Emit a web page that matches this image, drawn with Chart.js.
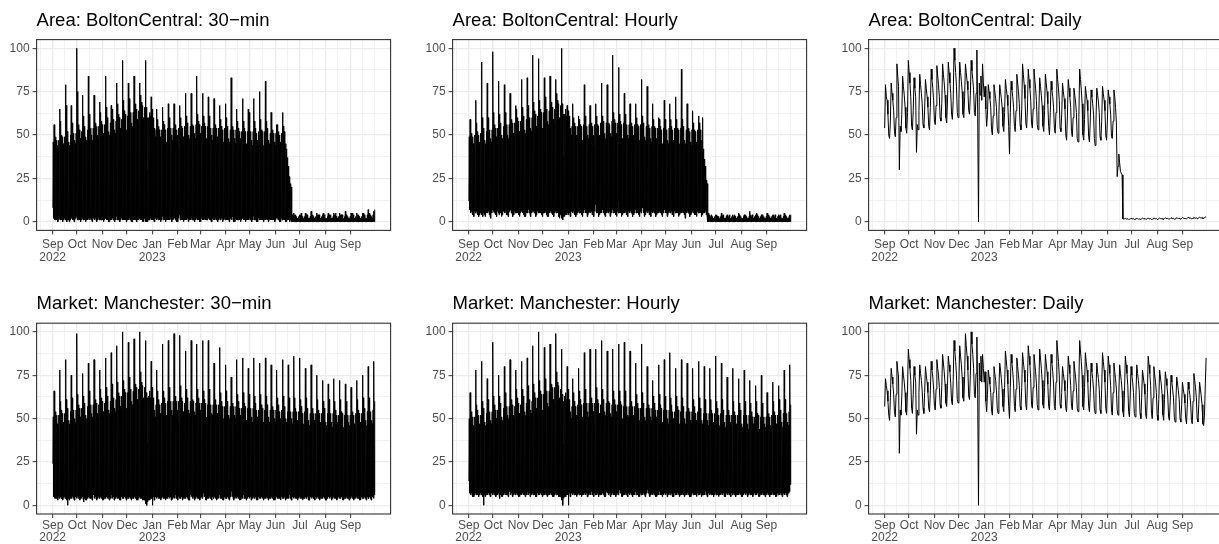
<!DOCTYPE html>
<html><head><meta charset="utf-8">
<script src="https://cdn.jsdelivr.net/npm/chart.js@4.4.1/dist/chart.umd.min.js"></script>
<style>
html,body{margin:0;padding:0;background:#fff;overflow:hidden;width:1219px;height:544px;position:relative;}
canvas{position:absolute;}
</style></head><body>
<canvas id="p0"></canvas><canvas id="p1"></canvas><canvas id="p2"></canvas>
<canvas id="p3"></canvas><canvas id="p4"></canvas><canvas id="p5"></canvas>
<script>
// ---------- tick labels / categories ----------
const panelTitles = ["Area: BoltonCentral: 30\u2212min","Area: BoltonCentral: Hourly","Area: BoltonCentral: Daily",
  "Market: Manchester: 30\u2212min","Market: Manchester: Hourly","Market: Manchester: Daily"];
// day index 0 = 1 Sep 2022
const monthTicks = [0,30,61,91,122,153,181,212,242,273,303,334,365];
const monthLabels = [["Sep","2022"],"Oct","Nov","Dec",["Jan","2023"],"Feb","Mar","Apr","May","Jun","Jul","Aug","Sep"];
const monthMinorTicks = [-15,15,45.5,76,106.5,137.5,167,196.5,227,257.5,288,318.5,349.5,380,395];
const yTicks = [0,25,50,75,100];
const yMinorTicks = [12.5,37.5,62.5,87.5];

// ---------- Area BoltonCentral, daily values (one per day) ----------
const boltonDaily = [
54,79,72,70,62,50,48,
58,80,74,70,64,52,49,
60,91,84,78,30,55,52,
62,84,78,73,66,54,51,
63,93,86,80,72,55,53,
64,83,77,72,40,56,53,
64,85,79,74,68,56,54,
65,82,77,72,66,55,53,
66,88,82,77,70,58,56,
67,90,84,79,72,60,58,
68,91,85,80,73,60,57,
69,92,86,80,74,62,59,
70,100,93,86,78,63,60,
71,92,86,81,75,62,60,
72,91,86,81,76,64,62,
73,93,87,82,76,63,61,
74,99,62,0,80,73,84,
70,91,80,72,78,65,55,
62,79,75,71,66,53,50,
61,79,75,71,66,54,51,
62,79,75,71,66,55,52,
63,82,77,73,67,55,39,
63,81,76,72,66,55,52,
64,85,80,75,68,56,53,
65,91,85,79,71,57,54,
65,88,82,77,70,57,54,
65,88,82,77,70,56,53,
64,83,78,73,67,55,52,
64,85,80,75,68,55,50,
63,81,76,72,66,54,51,
63,88,82,77,70,54,52,
62,80,75,71,65,50,47,
61,82,77,72,66,52,49,
60,77,73,69,63,48,46,
60,88,82,76,68,50,47,
59,78,74,70,64,49,46,
58,76,72,68,62,48,44,
58,77,73,69,63,49,47,
58,78,74,70,64,50,47,
58,76,72,68,62,49,48,
58,76,72,66,57,26,32,
39,34,29,28,27,1.6,1.5,
1.7,1.9,1.6,1.5,1.8,1.3,1.4,
1.6,2.0,1.7,1.6,1.8,1.2,1.4,
1.8,1.9,1.7,1.5,1.7,1.3,1.3,
1.7,2.1,1.8,1.6,1.9,1.4,1.5,
1.8,2.0,1.7,1.6,1.8,1.3,1.4,
1.7,2.2,1.9,1.7,1.9,1.3,1.5,
1.8,2.1,1.8,1.7,1.9,1.4,1.5,
1.9,2.2,1.9,1.8,2.0,1.5,1.6,
1.8,2.3,2.0,1.8,2.0,1.4,1.6,
2.0,2.3,2.0,1.9,2.1,1.5,1.7,
1.9,2.4,2.1,1.9,2.1,1.6,1.7,
2.1,2.5,2.2,2.0,2.2,1.6,1.8,
2.0,2.6,2.2,2.0,2.3,1.7,1.8,
2.2,2.7,2.3,2.1,2.4,1.8,1.9,
2.3,2.8,2.6];

// ---------- Market Manchester, daily values ----------
const manchesterDaily = [
57,73,69,66,60,52,49,
62,79,74,70,64,54,51,
64,83,78,74,30,55,52,
63,80,75,71,65,54,52,
67,90,84,79,72,56,53,
64,80,75,71,41,55,52,
65,81,76,72,66,56,53,
65,80,75,71,65,56,54,
66,83,78,74,67,57,55,
67,84,79,75,68,58,56,
69,87,82,77,70,59,57,
69,86,81,77,70,60,58,
72,95,89,83,75,61,59,
72,92,86,81,74,62,60,
74,99,92,86,78,63,61,
75,100,93,87,79,64,62,
76,97,64,0,82,72,86,
71,87,79,71,77,60,54,
64,78,74,70,65,55,52,
65,80,76,72,66,56,53,
66,82,78,73,67,57,54,
68,89,84,78,70,57,50,
68,87,82,77,70,57,54,
67,85,80,75,69,57,55,
68,88,83,78,71,58,55,
70,92,86,81,73,58,56,
68,87,82,77,70,58,55,
69,90,85,79,72,58,56,
68,87,82,77,70,57,55,
68,87,82,77,70,57,55,
71,95,89,83,75,58,56,
65,80,76,72,66,56,54,
67,86,81,76,69,57,55,
66,83,78,74,68,56,54,
70,95,89,83,75,57,55,
68,88,83,78,71,57,54,
65,82,77,73,67,56,53,
65,82,77,73,67,55,53,
67,88,83,78,71,56,53,
66,86,81,76,69,55,52,
65,82,77,73,67,55,52,
64,81,76,72,66,54,51,
66,86,81,76,69,54,51,
63,80,75,71,65,53,51,
63,81,76,72,66,53,50,
62,78,74,70,64,52,50,
65,86,81,76,69,53,50,
62,80,75,71,65,52,49,
61,78,74,70,64,52,49,
61,77,73,69,63,51,49,
60,75,71,67,62,51,48,
60,74,70,66,61,50,48,
58,71,67,64,59,50,47,
58,71,67,64,59,49,47,
60,76,72,68,62,50,48,
58,71,67,63,58,47,46,
52,70,85];

// ---------- BoltonCentral 30-min: daily high / daily low of the half-hour series ----------
const bolton30High = [
46,56,52,49,47,44,42,
47,65,58,50,49,45,43,
49,79,67,52,44,46,44,
50,67,57,53,51,47,45,
51,100,75,56,53,48,46,
52,73,61,55,45,49,47,
53,84,62,56,54,50,47,
54,73,64,57,55,50,48,
55,69,63,58,56,51,49,
56,84,66,60,58,52,50,
57,67,65,61,59,53,51,
58,80,68,62,60,54,52,
59,93,70,64,62,55,53,
61,80,71,66,63,57,55,
63,84,72,68,65,59,57,
64,80,73,69,67,60,58,
66,93,66,30,60,60,63,
61,72,65,58,60,54,49,
53,65,59,55,53,49,47,
53,66,58,56,53,49,46,
54,68,60,55,54,50,47,
54,68,59,56,53,50,42,
54,67,60,55,54,49,47,
55,74,61,57,55,50,48,
55,74,62,56,55,51,48,
56,84,62,58,56,51,49,
55,74,61,57,55,50,48,
55,72,61,56,54,50,47,
54,71,60,56,54,49,47,
54,67,59,55,53,49,46,
54,68,60,55,54,48,46,
53,83,59,55,53,48,45,
53,65,58,54,52,48,46,
52,71,58,54,52,47,45,
52,65,63,53,52,47,44,
52,71,58,54,51,47,45,
52,75,59,53,52,46,44,
52,81,58,54,51,47,45,
51,63,57,53,51,46,44,
51,56,56,52,50,46,43,
51,63,55,52,48,45,42,
37,32,26,24,22,20,4,
3,5,4,4,3,2,2,
3,4,4,5,3,2,2,
3,5,4,4,4,2,2,
3,6,4,4,3,2,2,
3,5,4,4,4,2,2,
3,4,5,4,3,2,2,
3,5,4,4,4,2,2,
3,5,4,5,3,2,2,
3,5,4,4,4,2,2,
3,6,4,4,3,2,2,
3,5,4,5,4,2,2,
3,5,4,4,3,2,2,
3,5,5,4,4,2,2,
4,7,5,5,4,3,2,
4,6,7];
const bolton30Low = [
8,2,1,1,2,1,0,
1,2,1,2,1,0,1,
2,1,1,0,1,1,0,
1,2,2,1,1,0,1,
2,3,1,1,2,1,0,
1,2,1,1,1,0,1,
2,1,2,1,2,1,0,
1,2,1,2,1,0,1,
2,1,1,1,2,1,0,
1,2,2,1,1,0,0,
2,1,1,2,1,1,0,
1,3,1,1,2,0,1,
2,1,2,1,1,1,0,
1,2,1,2,1,0,0,
2,1,1,1,2,0,1,
1,2,2,1,1,0,0,
2,1,0,0,0,1,1,
1,2,1,1,1,0,0,
2,1,2,1,2,1,0,
1,3,1,2,1,0,1,
2,1,1,1,2,1,0,
1,2,2,1,1,0,0,
2,4,1,2,1,1,0,
1,2,1,1,2,0,1,
2,1,2,1,1,1,0,
1,2,1,2,1,0,0,
2,3,1,1,2,1,1,
1,2,2,1,1,0,0,
2,1,1,2,1,1,0,
1,2,1,1,2,0,1,
2,1,2,1,1,1,0,
1,2,1,3,1,0,0,
2,1,1,1,2,1,0,
1,2,2,1,1,0,1,
2,1,1,2,1,1,0,
1,3,1,1,2,0,0,
2,1,2,1,1,1,0,
1,2,1,2,1,0,1,
2,1,1,1,2,1,0,
1,2,2,1,1,0,0,
2,1,1,1,1,0,0,
1,1,1,0,1,0,0,
0,0,0,0,0,0,0,
0,0,0,0,0,0,0,
0,0,0,0,0,0,0,
0,0,0,0,0,0,0,
0,0,0,0,0,0,0,
0,0,0,0,0,0,0,
0,0,0,0,0,0,0,
0,0,0,0,0,0,0,
0,0,0,0,0,0,0,
0,0,0,0,0,0,0,
0,0,0,0,0,0,0,
0,0,0,0,0,0,0,
0,0,0,0,0,0,0,
0,0,0,0,0,0,0,
0,0,0];

// ---------- BoltonCentral hourly: daily high / low ----------
const boltonHourHigh = [
49,59,54,51,49,45,43,
50,70,57,52,50,46,44,
51,92,60,54,44,47,45,
52,80,60,55,53,48,46,
53,98,63,56,54,49,47,
54,81,62,57,46,50,48,
55,79,63,58,56,50,48,
56,74,64,59,57,51,49,
57,67,65,60,58,52,50,
58,82,66,61,59,53,51,
59,83,67,62,60,54,52,
60,96,69,64,62,55,53,
61,94,70,65,63,56,54,
63,83,72,67,65,58,56,
64,84,73,69,66,59,57,
65,82,74,70,68,60,58,
67,100,68,38,62,62,65,
61,67,64,58,61,54,50,
55,68,60,57,55,50,48,
55,61,59,56,55,50,47,
56,79,61,57,55,50,48,
56,67,60,57,55,50,44,
56,68,61,56,55,50,48,
57,80,61,58,56,51,48,
57,79,62,57,56,51,49,
58,96,63,59,57,51,49,
57,89,62,58,56,51,48,
57,74,62,57,56,50,48,
56,68,61,57,55,50,47,
56,68,60,56,55,50,47,
56,82,61,57,55,49,47,
55,78,60,56,54,48,46,
55,68,59,55,54,48,46,
54,60,59,55,53,47,45,
54,70,59,54,53,47,45,
54,68,59,55,53,47,45,
54,72,59,54,53,47,45,
54,88,59,55,53,47,45,
53,68,58,54,52,46,44,
53,64,57,53,52,46,44,
53,61,57,53,51,47,60,
42,36,32,28,24,22,5,
3,4,3,4,3,2,2,
3,4,4,3,3,2,2,
3,5,3,4,3,2,2,
3,4,4,3,4,2,2,
3,4,3,4,3,2,2,
3,5,4,3,3,2,2,
3,4,3,4,3,2,2,
3,6,4,3,4,2,2,
3,4,5,4,3,2,2,
3,4,4,3,3,2,2,
3,5,3,4,3,2,2,
3,4,4,3,4,2,2,
3,4,3,4,3,2,2,
3,5,4,4,3,2,2,
3,4,4];
const boltonHourLow = [
12,7,5,6,5,4,3,
6,5,6,5,4,3,4,
5,6,4,3,5,4,3,
6,5,5,6,4,3,2,
5,7,6,5,6,4,3,
6,5,4,5,5,3,4,
7,6,5,6,4,4,3,
5,6,7,5,5,3,4,
6,5,5,6,5,4,3,
5,7,6,5,4,3,3,
6,5,5,7,5,4,3,
5,6,6,5,6,3,4,
6,5,7,5,5,4,3,
5,6,5,6,4,3,3,
6,5,6,5,5,4,3,
5,6,5,6,5,3,2,
4,5,2,1,3,3,4,
5,4,5,4,5,3,3,
6,5,6,5,4,3,4,
5,6,5,6,5,4,3,
6,5,7,5,5,3,4,
5,6,5,6,4,4,3,
6,10,6,5,5,3,4,
5,6,5,7,5,4,3,
6,5,6,5,6,3,4,
5,7,5,6,5,4,3,
6,5,12,5,5,3,4,
5,6,5,6,4,4,3,
6,5,6,5,5,3,4,
5,7,5,6,5,4,3,
6,5,6,8,5,3,4,
5,6,5,6,4,4,3,
6,5,6,5,5,3,4,
5,6,5,6,5,4,3,
6,5,7,5,5,3,4,
5,6,5,6,4,4,3,
6,5,6,5,5,3,4,
5,6,5,6,5,4,2,
6,5,6,5,5,3,4,
5,6,5,6,4,4,3,
6,5,6,5,5,3,4,
5,6,5,6,4,3,0,
0,0,0,0,0,0,0,
0,0,0,0,0,0,0,
0,0,0,0,0,0,0,
0,0,0,0,0,0,0,
0,0,0,0,0,0,0,
0,0,0,0,0,0,0,
0,0,0,0,0,0,0,
0,0,0,0,0,0,0,
0,0,0,0,0,0,0,
0,0,0,0,0,0,0,
0,0,0,0,0,0,0,
0,0,0,0,0,0,0,
0,0,0,0,0,0,0,
0,0,0,0,0,0,0,
0,0,0];

// ---------- Manchester 30-min: daily high / low ----------
const manc30High = [
51,66,58,54,52,47,45,
52,78,60,55,53,48,46,
53,84,61,56,44,49,47,
54,75,62,57,55,50,48,
55,99,64,58,56,51,49,
56,76,63,59,47,52,50,
57,82,66,60,58,53,51,
58,84,65,61,59,53,51,
58,78,67,62,60,54,52,
59,85,68,63,61,55,53,
60,88,70,64,62,56,54,
61,92,71,65,63,57,55,
63,100,72,67,65,58,56,
65,94,74,69,67,60,58,
66,96,76,70,68,61,59,
67,100,77,71,69,62,60,
68,95,65,36,62,63,66,
62,83,68,60,62,55,51,
58,78,66,61,58,53,51,
59,93,66,62,59,54,52,
60,95,68,61,60,55,52,
60,99,67,63,60,55,48,
60,98,69,62,60,54,52,
59,89,67,62,59,55,53,
60,95,68,61,60,54,52,
59,93,67,62,59,55,52,
59,95,66,61,59,54,51,
58,95,67,60,58,53,52,
58,82,66,61,58,53,51,
58,91,65,60,57,53,50,
57,81,66,60,58,52,50,
57,74,65,59,57,52,50,
57,84,64,60,56,52,49,
56,85,65,59,57,51,49,
56,79,64,58,56,51,48,
56,85,63,59,55,51,49,
55,82,64,58,56,50,48,
55,85,63,58,55,51,48,
55,81,63,57,55,50,48,
55,78,62,58,54,50,47,
55,84,63,57,55,50,48,
54,81,62,57,54,50,47,
54,86,62,56,54,49,47,
54,85,61,57,53,49,47,
54,79,62,56,54,49,46,
53,81,61,56,53,49,47,
53,75,61,55,53,48,46,
53,72,60,56,52,48,46,
53,70,61,55,53,48,45,
53,73,60,55,52,48,46,
52,72,61,54,53,47,45,
52,70,60,55,52,48,46,
52,68,60,54,52,47,45,
53,72,61,55,53,48,46,
53,75,62,56,53,49,46,
54,80,62,56,54,49,47,
55,83,60];
const manc30Low = [
24,5,4,4,5,4,3,
5,4,5,4,4,3,4,
5,4,4,3,0,4,3,
4,5,4,5,4,3,3,
5,4,5,4,5,3,4,
4,5,4,2,4,3,3,
5,4,5,4,4,4,3,
4,6,4,5,4,3,4,
5,4,5,4,5,3,3,
4,5,4,5,4,4,3,
5,4,6,4,5,3,4,
4,5,4,5,4,3,3,
5,4,5,4,5,4,3,
4,5,4,5,4,3,4,
5,4,5,4,5,3,3,
4,5,4,5,4,3,3,
3,4,1,0,2,3,4,
3,4,4,0,5,3,3,
5,4,5,4,5,4,3,
4,5,4,5,4,3,4,
5,4,5,4,5,3,3,
4,5,4,6,4,4,3,
5,4,5,4,5,3,4,
4,5,4,5,4,3,3,
5,6,5,4,5,4,3,
4,5,4,5,4,3,4,
5,4,5,7,5,3,3,
4,5,4,5,4,4,3,
5,4,5,4,5,3,4,
4,6,4,5,4,3,3,
5,4,5,4,5,4,3,
4,5,8,5,4,3,4,
5,4,5,4,5,3,3,
4,5,4,6,4,4,3,
5,4,5,4,5,3,4,
4,5,4,5,4,3,3,
5,4,6,4,5,4,3,
4,5,4,5,4,3,4,
5,4,5,4,5,3,3,
4,5,4,5,4,4,3,
5,4,5,4,5,3,4,
4,5,4,6,4,3,3,
5,4,5,4,5,4,3,
4,5,4,5,4,3,4,
5,4,5,4,5,3,3,
4,5,4,5,4,4,3,
5,4,5,4,5,3,4,
4,5,4,5,4,3,3,
5,4,5,4,5,4,3,
4,5,4,5,4,3,4,
5,4,5,4,5,3,3,
4,5,4,5,4,4,3,
5,4,5,4,5,3,4,
4,5,4,5,4,3,3,
5,4,5,4,5,4,3,
4,5,4,5,4,3,4,
5,4,6];

// ---------- Manchester hourly: daily high / low ----------
const mancHourHigh = [
50,65,57,54,51,46,44,
51,78,58,55,52,47,45,
52,83,60,56,44,48,46,
53,73,61,57,54,49,47,
54,94,63,58,55,50,48,
55,75,63,59,47,51,49,
56,80,65,60,57,52,50,
57,84,65,61,58,52,50,
57,78,67,62,59,53,51,
58,83,67,63,60,54,52,
59,85,69,63,61,55,53,
60,92,70,65,62,56,54,
62,100,72,66,64,57,55,
64,91,73,68,66,59,57,
66,93,75,70,68,61,59,
68,99,77,71,69,62,60,
67,90,64,35,60,63,65,
61,80,67,58,61,54,50,
57,73,65,60,57,52,50,
58,79,66,61,58,53,51,
59,88,67,60,59,54,51,
59,90,66,62,59,54,47,
59,90,68,61,59,53,51,
58,95,67,61,58,54,52,
59,89,67,60,59,53,51,
58,90,66,61,58,54,51,
58,93,66,60,58,53,50,
57,94,66,59,57,52,51,
57,89,65,60,57,52,50,
57,82,64,59,56,52,49,
56,93,65,59,57,51,49,
56,80,64,58,56,51,49,
56,72,63,59,55,51,48,
55,81,64,58,56,50,48,
55,84,63,57,55,50,47,
55,88,62,58,54,50,48,
54,79,63,57,55,49,47,
54,84,62,57,54,50,47,
54,82,62,56,54,49,47,
54,79,61,57,53,49,46,
54,83,62,56,54,49,47,
53,80,61,56,53,49,46,
53,79,61,55,53,48,46,
53,86,60,56,52,48,46,
53,82,61,55,53,48,45,
52,74,60,55,52,48,46,
52,79,60,54,52,47,45,
52,73,59,55,51,47,45,
52,78,60,54,52,47,44,
52,72,59,54,51,47,45,
51,69,60,53,52,46,44,
51,75,59,54,51,47,45,
51,65,59,53,51,46,44,
52,71,60,54,52,47,45,
52,69,61,55,52,48,45,
53,78,61,55,53,48,46,
54,81,58];
const mancHourLow = [
14,7,6,7,6,5,5,
6,7,6,7,6,5,6,
7,6,6,5,0,6,5,
6,7,6,7,6,5,5,
7,6,7,6,7,5,6,
6,7,6,4,6,5,5,
7,6,7,6,6,6,5,
6,8,6,7,6,5,6,
7,6,7,6,7,5,5,
6,7,6,7,6,6,5,
7,6,8,6,7,5,6,
6,7,6,7,6,5,5,
7,6,7,6,7,6,5,
6,7,6,7,6,5,6,
7,6,7,6,7,5,5,
6,7,6,7,6,5,5,
5,6,3,0,4,5,6,
5,6,6,0,7,5,5,
7,6,7,6,7,6,5,
6,7,6,7,6,5,6,
7,6,7,6,7,5,5,
6,7,6,8,6,6,5,
7,6,7,6,7,5,6,
6,7,6,7,6,5,5,
7,8,7,6,7,6,5,
6,7,6,7,6,5,6,
7,6,7,9,7,5,5,
6,7,6,7,6,6,5,
7,6,7,6,7,5,6,
6,8,6,7,6,5,5,
7,6,7,6,7,6,5,
6,7,9,7,6,5,6,
7,6,7,6,7,5,5,
6,7,6,8,6,6,5,
7,6,7,6,7,5,6,
6,7,6,7,6,5,5,
7,6,8,6,7,6,5,
6,7,6,7,6,5,6,
7,6,7,6,7,5,5,
6,7,6,7,6,6,5,
7,6,7,6,7,5,6,
6,7,6,8,6,5,5,
7,6,7,6,7,6,5,
6,7,6,7,6,5,6,
7,6,7,6,7,5,5,
6,7,6,7,6,6,5,
7,6,7,6,7,5,6,
6,7,6,7,6,5,5,
7,6,7,6,7,6,5,
6,7,6,7,6,5,6,
7,6,7,6,7,5,5,
6,7,6,7,6,6,5,
7,6,7,6,7,5,6,
6,7,6,7,6,5,5,
7,6,7,6,7,6,5,
6,7,6,7,6,5,6,
7,8,12];

// ---------- build datasets from the arrays ----------
function densePoints(hi, lo){
  const pts=[];
  for(let d=0; d<hi.length; d++){ pts.push({x:d+0.25,y:lo[d]}); pts.push({x:d+0.75,y:hi[d]}); }
  return pts;
}
function dailyPoints(v){ return v.map((y,d)=>({x:d,y})); }
const panelData = [
  densePoints(bolton30High, bolton30Low),
  densePoints(boltonHourHigh, boltonHourLow),
  dailyPoints(boltonDaily),
  densePoints(manc30High, manc30Low),
  densePoints(mancHourHigh, mancHourLow),
  dailyPoints(manchesterDaily)
];

// ---------- layout ----------
const FONT = "'Liberation Sans', Arial, Helvetica, sans-serif";
const plotLefts = [36.6, 452.6, 868.6];
const plotTops = [39.6, 323.2];
const xLabelPad = [4, 1];
const PLOT_W = 354, PLOT_H = 190.8;
const XMIN = -19.7, XMAX = 414.2;
const majorX = new Set(monthTicks);
const majorY = new Set(yTicks);
const xAll = monthTicks.concat(monthMinorTicks).sort((a,b)=>a-b);
const yAll = yTicks.concat(yMinorTicks).sort((a,b)=>a-b);

const panelBorder = {
  id:'panelBorder',
  afterDatasetsDraw(chart){
    const {ctx, chartArea:a} = chart;
    ctx.save(); ctx.strokeStyle='#333333'; ctx.lineWidth=1.1;
    ctx.strokeRect(a.left, a.top, a.right-a.left, a.bottom-a.top);
    ctx.restore();
  }
};

for(let i=0;i<6;i++){
  const col=i%3, row=Math.floor(i/3);
  const L=plotLefts[col], T=plotTops[row];
  const cl=Math.floor(L-36), ct=Math.floor(T-38);
  const yW=L-cl, topH=T-ct, PR=6, XH=44;
  const W=Math.ceil(yW+PLOT_W+PR), H=Math.ceil(topH+PLOT_H+XH);
  const cv=document.getElementById('p'+i);
  cv.width=W; cv.height=H; cv.style.width=W+'px'; cv.style.height=H+'px';
  cv.style.left=cl+'px'; cv.style.top=ct+'px';
  const padRight = W - yW - PLOT_W;
  const xH = H - topH - PLOT_H;
  new Chart(cv,{
    type:'line',
    data:{datasets:[{data:panelData[i], borderColor:'#000000', borderWidth:1, pointRadius:0, fill:false, tension:0}]},
    options:{
      responsive:false, animation:false, devicePixelRatio:1, events:[], parsing:false, normalized:true,
      layout:{padding:{left:0,right:padRight,top:topH-30,bottom:0}},
      plugins:{
        legend:{display:false}, tooltip:{enabled:false},
        title:{display:true, text:panelTitles[i], align:'start', fullSize:false, color:'#000000',
          font:{family:FONT,size:18.5,weight:'normal',lineHeight:1.2}, padding:{top:0,bottom:7.8}}
      },
      scales:{
        x:{type:'linear', min:XMIN, max:XMAX,
          afterBuildTicks:s=>{s.ticks=xAll.map(v=>({value:v}));},
          afterFit:s=>{s.height=xH;},
          ticks:{autoSkip:false, maxRotation:0, minRotation:0, padding:xLabelPad[row], color:'#4D4D4D',
            font:{family:FONT,size:12,lineHeight:1.05},
            callback:v=>{const k=monthTicks.indexOf(v); return k>=0?monthLabels[k]:'';}},
          grid:{color:'#EBEBEB', lineWidth:c=>majorX.has(c.tick&&c.tick.value)?1.3:0.7,
            tickColor:c=>majorX.has(c.tick&&c.tick.value)?'#333333':'rgba(0,0,0,0)', tickLength:4, tickWidth:1},
          border:{display:false}},
        y:{type:'linear', min:-5, max:105,
          afterBuildTicks:s=>{s.ticks=yAll.map(v=>({value:v}));},
          afterFit:s=>{s.width=yW;},
          ticks:{autoSkip:false, padding:3, color:'#4D4D4D', font:{family:FONT,size:12},
            callback:v=>majorY.has(v)?String(v):''},
          grid:{color:'#EBEBEB', lineWidth:c=>majorY.has(c.tick&&c.tick.value)?1.3:0.7,
            tickColor:c=>majorY.has(c.tick&&c.tick.value)?'#333333':'rgba(0,0,0,0)', tickLength:4, tickWidth:1},
          border:{display:false}}
      }
    },
    plugins:[panelBorder]
  });
}
</script></body></html>
